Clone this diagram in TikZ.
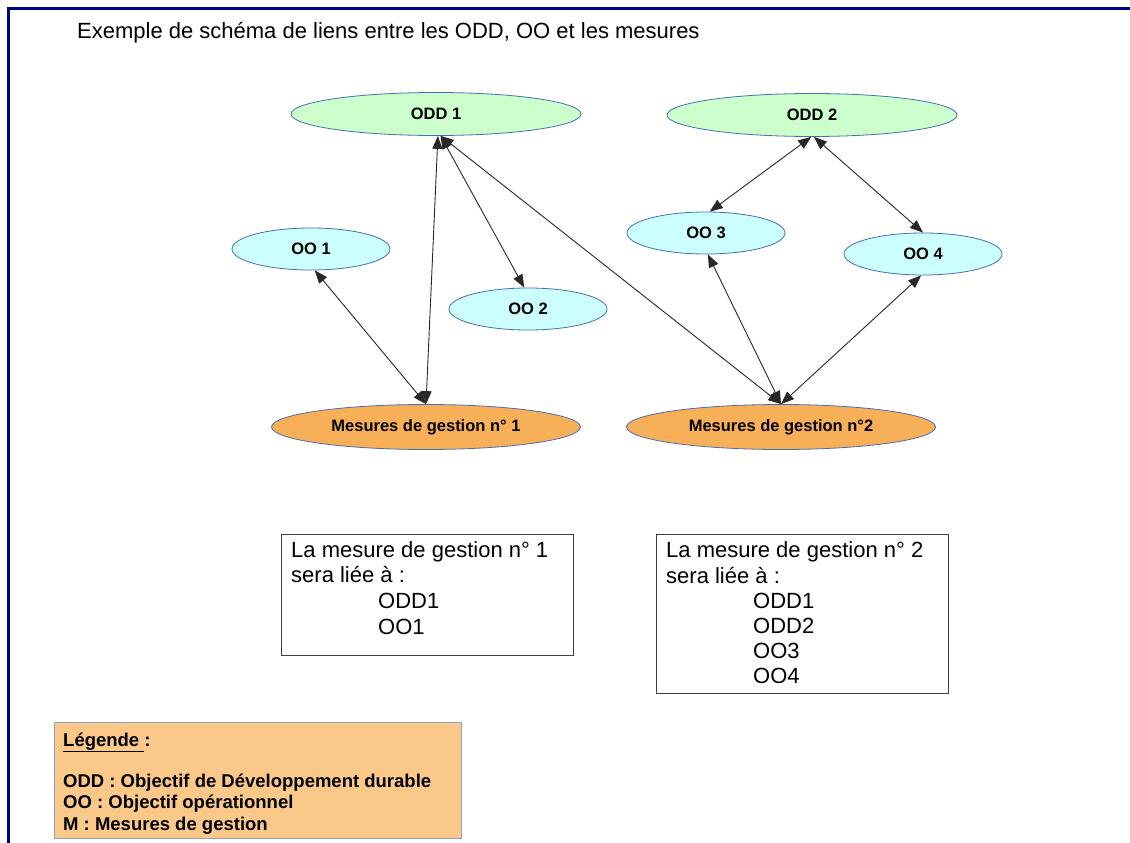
\documentclass[tikz,border=0pt]{standalone}
\usepackage{fontspec}
\setmainfont{Liberation Sans}
\usetikzlibrary{shapes.geometric,arrows.meta}
\definecolor{frameblue}{RGB}{0,0,128}
\definecolor{ellborder}{RGB}{70,110,180}
\definecolor{oddfill}{RGB}{204,255,204}
\definecolor{oofill}{RGB}{204,255,255}
\definecolor{mfill}{RGB}{248,176,88}
\definecolor{legfill}{RGB}{250,201,138}
\definecolor{legborder}{RGB}{140,160,200}
\definecolor{linkgray}{RGB}{40,40,40}
\tikzset{
  ell/.style={ellipse, draw=ellborder, line width=0.8pt, inner sep=0pt,
    font=\fontsize{16.5}{18}\selectfont\bfseries},
  oddell/.style={ell, fill=oddfill, minimum width=290pt, minimum height=43pt},
  ooell/.style={ell, fill=oofill, minimum width=158pt, minimum height=42pt},
  mell/.style={ell, fill=mfill, minimum width=309pt, minimum height=45pt},
  link/.style={draw=linkgray, line width=0.9pt,
    {Triangle[length=13pt,width=10pt]}-{Triangle[length=13pt,width=10pt]}},
  boxtxt/.style={anchor=base west, inner sep=0pt, font=\fontsize{22}{26}\selectfont},
  legtxt/.style={anchor=base west, inner sep=0pt, font=\fontsize{18.5}{21}\selectfont\bfseries},
  infobox/.style={draw=black!75, line width=1.2pt, anchor=north west, inner sep=0pt}
}
\begin{document}
\begin{tikzpicture}[x=1pt,y=-1pt]
\useasboundingbox (0,0) rectangle (1130,843);
\fill[white] (0,0) rectangle (1130,843);
% frame
\draw[frameblue, line width=3pt] (1130,9) -- (8,9) -- (8,843);
% title
\node[anchor=base west, inner sep=0pt, font=\fontsize{22}{26}\selectfont] (title) at (77,39) {Exemple de schéma de liens entre les ODD, OO et les mesures};
% ellipses
\node[oddell] (ODD1) at (436,114) {ODD 1};
\node[oddell] (ODD2) at (812,115) {ODD 2};
\node[ooell] (OO1) at (311,249) {OO 1};
\node[ooell] (OO2) at (528,309) {OO 2};
\node[ooell] (OO3) at (706,233) {OO 3};
\node[ooell] (OO4) at (923,254) {OO 4};
\node[mell] (M1) at (426,427) {Mesures de gestion n° 1};
\node[mell] (M2) at (781,427) {Mesures de gestion n°2};
% links
\draw[link] (ODD1.-85) -- (M1.north);
\draw[link] (ODD1.-78) -- (OO2.100);
\draw[link] (ODD1.-78) -- (M2.north);
\draw[link] (OO1.-80) -- (M1.north);
\draw[link] (OO3.-85) -- (M2.north);
\draw[link] (OO4.-95) -- (M2.north);
\draw[link] (ODD2.-92) -- (OO3.80);
\draw[link] (ODD2.-85) -- (OO4.north);
% info boxes
\node[infobox, minimum width=292pt, minimum height=121pt] (box1) at (281,534) {};
\node[boxtxt] (b1l1) at (291,557) {La mesure de gestion n° 1};
\node[boxtxt] (b1l2) at (291,582) {sera liée à :};
\node[boxtxt] (b1l3) at (378,608) {ODD1};
\node[boxtxt] (b1l4) at (378,634) {OO1};
\node[infobox, minimum width=292pt, minimum height=159pt] (box2) at (656,534) {};
\node[boxtxt] (b2l1) at (666,557) {La mesure de gestion n° 2};
\node[boxtxt] (b2l2) at (666,583) {sera liée à :};
\node[boxtxt] (b2l3) at (753,608) {ODD1};
\node[boxtxt] (b2l4) at (753,633) {ODD2};
\node[boxtxt] (b2l5) at (753,658) {OO3};
\node[boxtxt] (b2l6) at (753,683) {OO4};
% legend
\node[draw=legborder, fill=legfill, line width=1pt, anchor=north west, inner sep=0pt,
  minimum width=407pt, minimum height=116pt] (legend) at (54,722) {};
\node[legtxt] (lg1) at (63,746) {\underline{Légende\ }:};
\node[legtxt] (lg2) at (63,787) {ODD : Objectif de Développement durable};
\node[legtxt] (lg3) at (63,808) {OO : Objectif opérationnel};
\node[legtxt] (lg4) at (63,830) {M : Mesures de gestion};
\end{tikzpicture}
\end{document}
